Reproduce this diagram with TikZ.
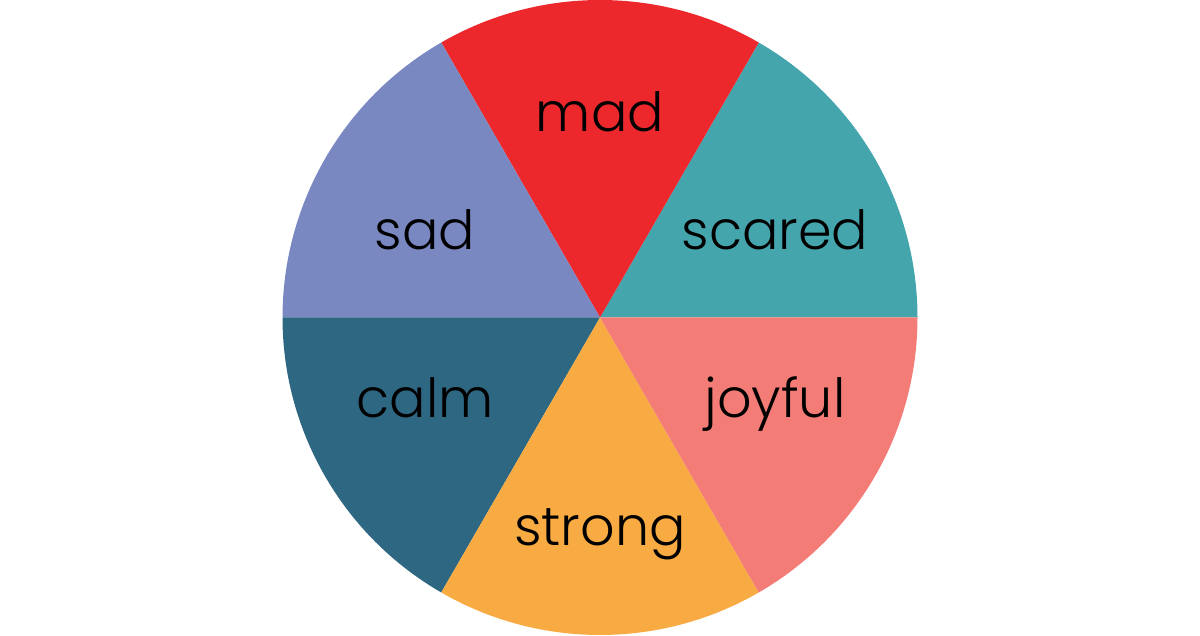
\documentclass[tikz,border=0pt]{standalone}
\usepackage{fontspec}
\setmainfont{Poppins}[UprightFont=* Light]
\definecolor{cmad}{HTML}{EC282D}
\definecolor{cscared}{HTML}{44A5AC}
\definecolor{csad}{HTML}{7A88C1}
\definecolor{ccalm}{HTML}{2E6782}
\definecolor{cstrong}{HTML}{F8AB42}
\definecolor{cjoy}{HTML}{F37C77}
\begin{document}
\begin{tikzpicture}[x=1pt,y=1pt,
  lab/.style={anchor=base,text=black,font=\fontsize{54}{58}\selectfont,inner sep=0pt}]
\useasboundingbox (0,0) rectangle (1200,635);
\coordinate (c) at (600,317.5);
\def\R{317.5}
\fill[cscared] (c) -- ++(0:\R) arc[start angle=0,end angle=60,radius=\R] -- cycle;
\fill[cmad] (c) -- ++(60:\R) arc[start angle=60,end angle=120,radius=\R] -- cycle;
\fill[csad] (c) -- ++(120:\R) arc[start angle=120,end angle=180,radius=\R] -- cycle;
\fill[ccalm] (c) -- ++(180:\R) arc[start angle=180,end angle=240,radius=\R] -- cycle;
\fill[cstrong] (c) -- ++(240:\R) arc[start angle=240,end angle=300,radius=\R] -- cycle;
\fill[cjoy] (c) -- ++(300:\R) arc[start angle=300,end angle=360,radius=\R] -- cycle;
\node[lab] (mad) at (600,503) {mad};
\node[lab] (scared) at (775,385) {scared};
\node[lab] (sad) at (425,385) {sad};
\node[lab] (calm) at (425,217) {calm};
\node[lab] (joyful) at (775,217) {joyful};
\node[lab] (strong) at (600,89) {strong};
\end{tikzpicture}
\end{document}
